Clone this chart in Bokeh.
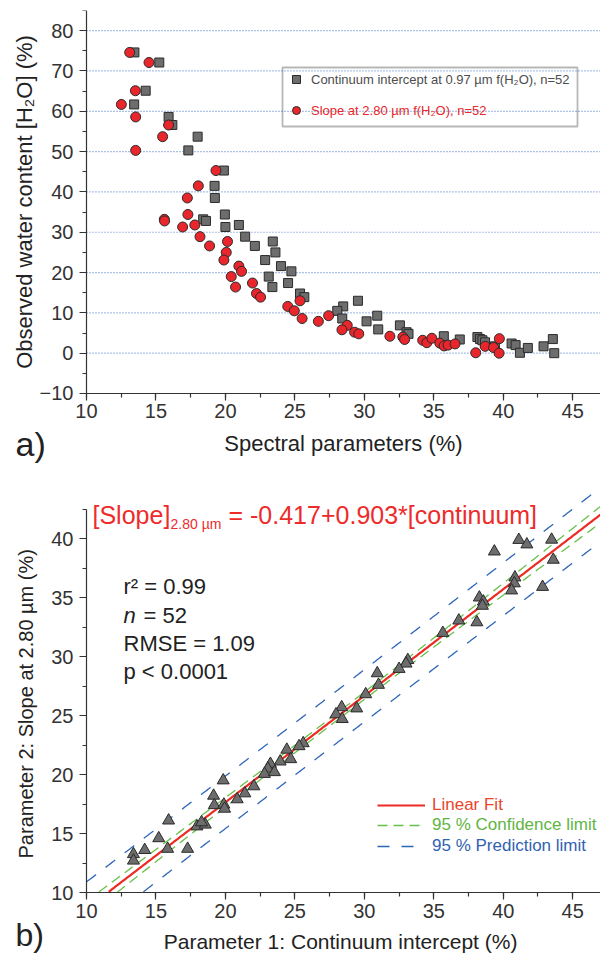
import numpy as np
from bokeh.plotting import figure
from bokeh.layouts import column
from bokeh.models import (Legend, LegendItem, Label, SingleIntervalTicker, Range1d,
                          BoxAnnotation)
from bokeh.embed import file_html
from bokeh.resources import INLINE

FONT = "Liberation Sans"

# ---------------- panel a) data ----------------
# Continuum intercept at 0.97 um (squares)
cont_x = [13.45, 15.24, 14.26, 13.43, 15.91, 16.18, 18.0, 17.33, 19.89, 19.22,
          19.24, 19.96, 18.4, 18.6, 20.97, 20.0, 21.42, 23.41, 22.12, 23.6,
          22.86, 24.0, 24.75, 23.12, 24.51, 23.38, 25.37, 25.68, 29.54, 28.48,
          28.05, 30.93, 28.41, 30.16, 32.56, 31.0, 33.04, 33.18, 35.72, 36.87,
          38.14, 38.33, 38.5, 38.69, 39.4, 40.6, 40.89, 41.2, 41.77, 42.9,
          43.57, 43.67]
cont_y = [74.6, 72.1, 65.1, 61.7, 58.6, 56.6, 53.7, 50.3, 45.3, 41.5,
          38.5, 34.4, 33.2, 32.8, 31.8, 31.3, 28.9, 27.7, 26.6, 25.0,
          23.1, 21.6, 20.3, 19.0, 17.4, 16.4, 14.8, 13.9, 13.0, 11.6,
          10.5, 9.3, 8.6, 7.9, 6.9, 5.9, 5.2, 4.8, 4.2, 3.4,
          4.0, 3.5, 3.2, 2.7, 1.7, 2.4, 2.0, 0.1, 1.3, 1.7,
          3.5, 0.0]
# Slope at 2.80 um (circles)
slope_x = [13.11, 14.5, 13.52, 12.51, 13.54, 15.91, 15.48, 13.54, 19.32, 18.05,
           17.26, 17.3, 15.6, 15.62, 17.8, 16.92, 18.17, 20.15, 18.86, 20.06,
           19.89, 20.97, 21.16, 20.42, 21.95, 20.73, 22.24, 22.53, 25.37, 24.49,
           24.96, 27.43, 25.52, 26.69, 28.77, 28.39, 29.3, 29.6, 31.84, 32.77,
           32.9, 34.2, 34.5, 34.86, 35.43, 35.74, 36.03, 36.53, 38.02, 38.7,
           39.3, 39.7, 39.72]
slope_y = [74.6, 72.1, 65.1, 61.7, 58.6, 56.6, 53.7, 50.3, 45.3, 41.5,
           38.5, 34.4, 33.2, 32.8, 31.8, 31.3, 28.9, 27.7, 26.6, 25.0,
           23.1, 21.6, 20.3, 19.0, 17.4, 16.4, 14.8, 13.9, 13.0, 11.6,
           10.5, 9.3, 8.6, 7.9, 6.9, 5.8, 5.2, 4.8, 4.2, 4.0,
           3.4, 3.2, 2.6, 3.7, 2.5, 1.8, 2.0, 2.3, 0.1, 1.7,
           1.4, 0.0, 3.6]
y_grid_a = [0, 10, 20, 30, 40, 50, 60, 70, 80]

# ---------------- panel b) data ----------------
tri_x = [30.93, 31.02, 30.1, 28.37, 27.96, 28.41, 29.45, 25.6, 25.3, 24.42,
         23.94, 24.7, 23.24, 23.05, 22.81, 23.53, 22.05, 21.4, 20.85, 19.84,
         19.15, 19.2, 19.89, 19.94, 17.95, 18.55, 18.28, 15.91, 15.2, 15.84,
         17.28, 14.19, 13.38, 13.38,
         41.12, 41.7, 43.48, 39.36, 43.6, 42.83, 40.84, 40.8, 40.6, 38.28,
         38.57, 38.5, 36.8, 38.1, 35.65, 33.13, 33.0, 32.5]
tri_y = [28.58, 27.6, 26.8, 25.7, 25.1, 24.7, 25.6, 22.65, 22.4, 22.1,
         21.1, 21.3, 20.9, 20.5, 20.05, 20.2, 19.0, 18.4, 17.9, 19.5,
         18.2, 17.4, 17.45, 17.1, 15.6, 15.75, 15.95, 16.1, 14.6, 13.7,
         13.7, 13.6, 13.25, 12.7,
         39.88, 39.5, 39.9, 38.9, 38.2, 35.9, 36.7, 36.2, 35.6, 35.0,
         34.66, 34.3, 33.05, 32.9, 32.0, 29.7, 29.4, 28.95]

fit_intercept = -0.417
fit_slope = 0.903
fit_r2 = 0.99
fit_n = 52
fit_rmse = 1.09
t_crit = 2.0086  # t(0.975, n-2)

RED = "#e8262b"
GRAY = "#6d6d6d"
EDGE = "#2b2b2b"
AXC = "#333333"
TXC = "#222222"


def style_axes(p, xlab, ylab, xlab_size, ylab_size, x_std, y_std,
               x_fixed, y_fixed, x_bounds, y_bounds, y_interval):
    for ax in (p.xaxis[0], p.yaxis[0]):
        ax.axis_line_color = AXC
        ax.axis_line_width = 1.2
        ax.major_tick_line_color = AXC
        ax.minor_tick_line_color = AXC
        ax.major_tick_line_width = 1.2
        ax.minor_tick_line_width = 1.2
        ax.major_tick_out = 7
        ax.major_tick_in = 0
        ax.minor_tick_out = 4
        ax.minor_tick_in = 0
        ax.major_label_text_font = FONT
        ax.major_label_text_font_size = "20px"
        ax.major_label_text_color = AXC
        ax.axis_label_text_font = FONT
        ax.axis_label_text_font_style = "normal"
        ax.axis_label_text_color = TXC
    p.xaxis.major_label_standoff = 4
    p.yaxis.major_label_standoff = 6
    p.xaxis.axis_label = xlab
    p.yaxis.axis_label = ylab
    p.xaxis.axis_label_text_font_size = xlab_size
    p.yaxis.axis_label_text_font_size = ylab_size
    p.xaxis.axis_label_standoff = x_std
    p.yaxis.axis_label_standoff = y_std
    p.xaxis.fixed_location = x_fixed
    p.yaxis.fixed_location = y_fixed
    p.xaxis.bounds = x_bounds
    p.yaxis.bounds = y_bounds
    p.xaxis.ticker = SingleIntervalTicker(interval=5, num_minor_ticks=2)
    p.yaxis.ticker = SingleIntervalTicker(interval=y_interval, num_minor_ticks=2)
    p.outline_line_color = None
    p.xgrid.visible = False
    p.ygrid.visible = False


def make_legend(items, loc, color, size, gw, gh, standoff):
    return Legend(items=items, location=loc, orientation="vertical",
                  label_text_font=FONT, label_text_font_size=size,
                  label_text_color=color, glyph_width=gw, glyph_height=gh,
                  label_height=gh, label_standoff=standoff, padding=0,
                  spacing=0, margin=0, background_fill_alpha=0,
                  border_line_alpha=0)


def label(p, x, y, txt, fs, color=TXC, style="normal"):
    # y is the wanted baseline height above the frame bottom, in pixels
    size = float(fs.replace("px", ""))
    p.add_layout(Label(x=x, y=y + 0.36 * size, x_units="screen", y_units="screen",
                       text=txt, text_font=FONT, text_font_size=fs,
                       text_font_style=style, text_color=color,
                       text_baseline="alphabetic"))


# ================= panel a =================
pa = figure(width=600, height=465, x_range=Range1d(3.81, 47),
            y_range=Range1d(-27.86, 85),
            output_backend="svg", toolbar_location=None,
            min_border_left=0, min_border_right=0, min_border_top=10,
            min_border_bottom=0)
style_axes(pa, "Spectral parameters (%)", "Observed water content [H\u2082O] (%)",
           "22px", "22px", 9, 0, -10, 10, (10, 47), (-10, 85), 10)

pa.segment(x0=10, x1=47, y0=y_grid_a, y1=y_grid_a, line_color="#3d6fc4",
           line_dash="1 2", line_width=1.2, line_alpha=0.85)

r_sq = pa.scatter(cont_x, cont_y, marker="square", size=9, fill_color=GRAY,
                  line_color=EDGE, line_width=1)
r_ci = pa.scatter(slope_x, slope_y, marker="circle", size=10, fill_color=RED,
                  line_color=EDGE, line_width=1)

pa.add_layout(BoxAnnotation(left=282, right=577, bottom=339, top=398,
                            left_units="screen", right_units="screen",
                            bottom_units="screen", top_units="screen",
                            fill_alpha=0, line_color="#111111", line_width=1.8))
pa.add_layout(make_legend(
    [LegendItem(label="Continuum intercept at 0.97 \u00b5m f(H\u2082O), n=52",
                renderers=[r_sq])],
    (286, 376), "#4d4d4d", "13px", 20, 20, 5))
pa.add_layout(make_legend(
    [LegendItem(label="Slope at 2.80 \u00b5m f(H\u2082O), n=52", renderers=[r_ci])],
    (286, 345), RED, "13px", 20, 20, 5))
label(pa, 15, 9, "a)", "34px")

# ================= panel b =================
pb = figure(width=600, height=488, x_range=Range1d(3.81, 47),
            y_range=Range1d(4.83, 44.58),
            output_backend="svg", toolbar_location=None,
            min_border_left=0, min_border_right=0, min_border_top=19,
            min_border_bottom=0)
style_axes(pb, "Parameter 1: Continuum intercept  (%)",
           "Parameter 2:  Slope at 2.80 \u00b5m (%)", "21px", "20px", 9, 11,
           10, 10, (10, 47), (10, 42.5), 5)

tx = np.array(tri_x)
xbar = tx.mean()
sxx = ((tx - xbar) ** 2).sum()
xs = np.linspace(10, 47, 371)
fit = fit_intercept + fit_slope * xs
conf = t_crit * fit_rmse * np.sqrt(1.0 / fit_n + (xs - xbar) ** 2 / sxx)
pred = t_crit * fit_rmse * np.sqrt(1.0 + 1.0 / fit_n + (xs - xbar) ** 2 / sxx)


def keep(arr):
    return [v if v >= 10 else np.nan for v in arr]


BLUE = "#2f66b8"
GREEN = "#6abf4b"
r_pred = pb.multi_line([list(xs), list(xs)], [keep(fit + pred), keep(fit - pred)],
                       line_color=BLUE, line_width=1.3, line_dash="12 12")
r_conf = pb.multi_line([list(xs), list(xs)], [keep(fit + conf), keep(fit - conf)],
                       line_color=GREEN, line_width=1.3, line_dash="10 6")
r_fit = pb.line(xs, keep(fit), line_color="#ee2a24", line_width=2.2)
pb.scatter(tri_x, tri_y, marker="triangle", size=12, fill_color=GRAY,
           line_color=EDGE, line_width=1)

pb.add_layout(make_legend([LegendItem(label="Linear Fit", renderers=[r_fit])],
                          (377, 138), "#e8452b", "17px", 48, 20, 7))
pb.add_layout(make_legend([LegendItem(label="95 % Confidence limit", renderers=[r_conf])],
                          (377, 118), "#5fb544", "17px", 48, 20, 7))
pb.add_layout(make_legend([LegendItem(label="95 % Prediction limit", renderers=[r_pred])],
                          (377, 97), "#2f62b0", "17px", 48, 20, 7))

EQC = "#ee2b2b"
label(pb, 92, 430, "[Slope]", "25px", EQC)
label(pb, 170, 424, "2.80 \u00b5m", "14px", EQC)
label(pb, 228, 430, f"= {fit_intercept}+{fit_slope}*[continuum]", "25px", EQC)

label(pb, 123, 359, f"r\u00b2 = {fit_r2}", "22px")
label(pb, 123, 330, "n", "22px", style="italic")
label(pb, 143, 330, f"= {fit_n}", "22px")
label(pb, 123, 302, f"RMSE = {fit_rmse}", "22px")
label(pb, 123, 274, "p < 0.0001", "22px")
label(pb, 15, 7, "b)", "32px")

layout = column(pa, pb)
open("out.html", "w").write(file_html(layout, INLINE))
